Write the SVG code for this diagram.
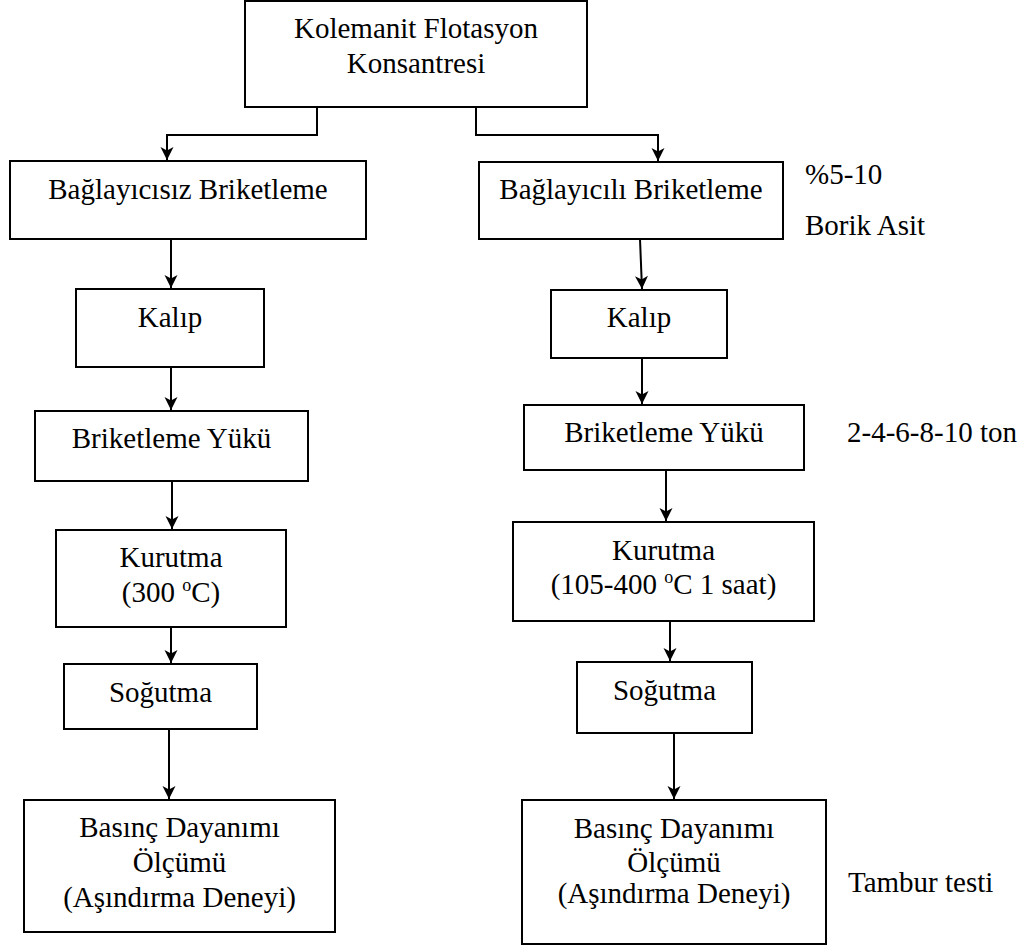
<svg xmlns="http://www.w3.org/2000/svg" width="1027" height="946" viewBox="0 0 1027 946" font-family="Liberation Serif, DejaVu Serif, Times New Roman, serif" font-size="29">
  <defs>
    <marker id="arrow" markerUnits="userSpaceOnUse" markerWidth="16" markerHeight="16" viewBox="-14 -8 16 16" refX="0" refY="0" orient="auto" overflow="visible">
      <path d="M0,0 L-13,-6.5 L-9.5,0 L-13,6.5 Z" fill="#000"/>
    </marker>
    <style>
      rect { fill: #fff; stroke: #000; stroke-width: 2; }
      text { fill: #000; }
      .c { text-anchor: middle; }
      .sup { font-size: 18px; }
      #connectors path { fill: none; stroke: #000; stroke-width: 2; marker-end: url(#arrow); }
    </style>
  </defs>
  <rect x="0" y="0" width="1027" height="946" style="stroke:none"/>

  <g id="connectors">
    <path d="M317,107 V135 H167 V160"/>
    <path d="M476,107 V135 H658 V161"/>
    <path d="M171,239 V288"/>
    <path d="M171,367 V410"/>
    <path d="M172,481 V529"/>
    <path d="M171,627 V663"/>
    <path d="M169,729 V799"/>
    <path d="M640,239 L642,289"/>
    <path d="M642,358 V404"/>
    <path d="M666,470 V521"/>
    <path d="M670,621 V661"/>
    <path d="M674,733 V799"/>
  </g>

  <g id="n-konsantre">
    <rect x="245" y="1" width="342" height="106"/>
    <text class="c" x="416" y="38">Kolemanit Flotasyon</text>
    <text class="c" x="416" y="73">Konsantresi</text>
  </g>

  <!-- binderless branch -->
  <g id="n-bagsiz">
    <rect x="10" y="161" width="356" height="78"/>
    <text class="c" x="188" y="199">Bağlayıcısız Briketleme</text>
  </g>
  <g id="n-kalip-l">
    <rect x="76" y="289" width="188" height="78"/>
    <text class="c" x="170" y="327">Kalıp</text>
  </g>
  <g id="n-yuk-l">
    <rect x="35" y="411" width="273" height="70"/>
    <text class="c" x="171.5" y="448">Briketleme Yükü</text>
  </g>
  <g id="n-kurutma-l">
    <rect x="56" y="530" width="230" height="97"/>
    <text class="c" x="171" y="567">Kurutma</text>
    <text class="c" x="171" y="602">(300 <tspan class="sup" dy="-11">o</tspan><tspan dy="11">C)</tspan></text>
  </g>
  <g id="n-sogutma-l">
    <rect x="64" y="664" width="193" height="65"/>
    <text class="c" x="160.5" y="702">Soğutma</text>
  </g>
  <g id="n-basinc-l">
    <rect x="24" y="800" width="311" height="132"/>
    <text class="c" x="179.5" y="837">Basınç Dayanımı</text>
    <text class="c" x="179.5" y="872">Ölçümü</text>
    <text class="c" x="179.5" y="907">(Aşındırma Deneyi)</text>
  </g>

  <!-- binder branch -->
  <g id="n-bagli">
    <rect x="479" y="162" width="304" height="77"/>
    <text class="c" x="631" y="199">Bağlayıcılı Briketleme</text>
  </g>
  <g id="n-katki">
    <text x="805" y="184">%5-10</text>
    <text x="805" y="235">Borik Asit</text>
  </g>
  <g id="n-kalip-r">
    <rect x="551" y="290" width="176" height="68"/>
    <text class="c" x="639" y="327">Kalıp</text>
  </g>
  <g id="n-yuk-r">
    <rect x="524" y="405" width="280" height="65"/>
    <text class="c" x="664" y="442">Briketleme Yükü</text>
  </g>
  <g id="n-yuk-deger">
    <text x="847" y="442">2-4-6-8-10 ton</text>
  </g>
  <g id="n-kurutma-r">
    <rect x="513" y="522" width="301" height="99"/>
    <text class="c" x="663.5" y="560">Kurutma</text>
    <text class="c" x="663.5" y="594">(105-400 <tspan class="sup" dy="-11">o</tspan><tspan dy="11">C 1 saat)</tspan></text>
  </g>
  <g id="n-sogutma-r">
    <rect x="577" y="662" width="175" height="71"/>
    <text class="c" x="664.5" y="700">Soğutma</text>
  </g>
  <g id="n-basinc-r">
    <rect x="522" y="800" width="304" height="144"/>
    <text class="c" x="674" y="838">Basınç Dayanımı</text>
    <text class="c" x="674" y="872">Ölçümü</text>
    <text class="c" x="674" y="903">(Aşındırma Deneyi)</text>
  </g>
  <g id="n-tambur">
    <text x="848" y="892">Tambur testi</text>
  </g>
</svg>
